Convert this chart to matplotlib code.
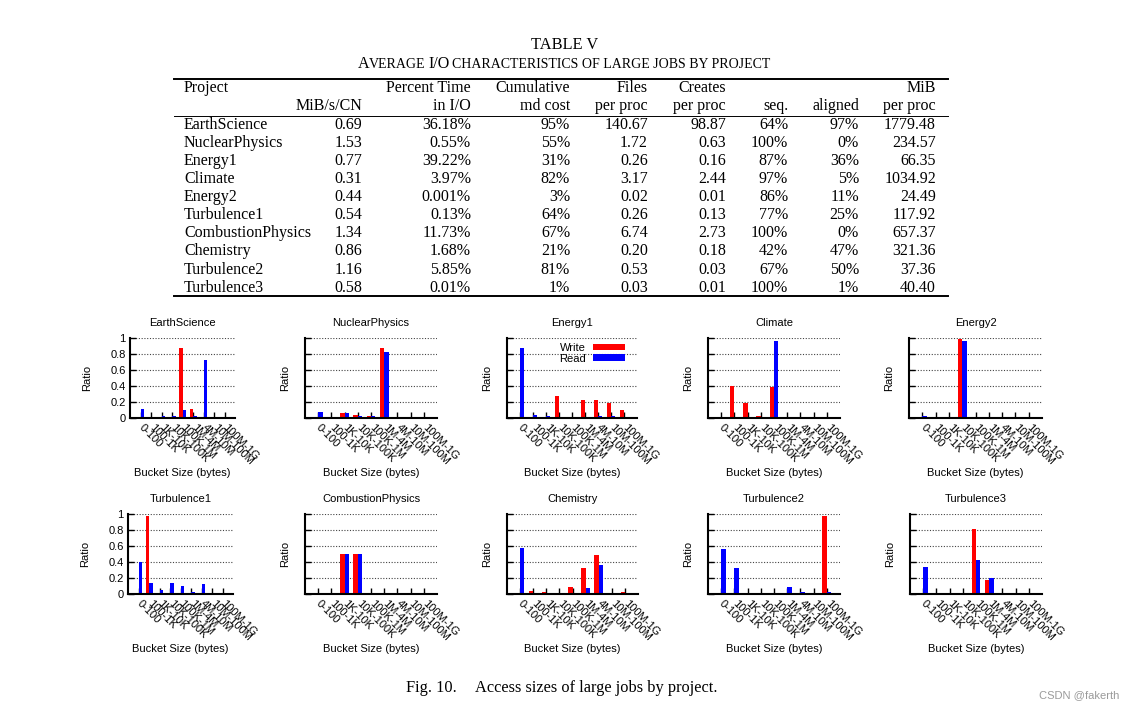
import numpy as np
import matplotlib
matplotlib.use("Agg")
import matplotlib.pyplot as plt
from matplotlib.lines import Line2D

W, H = 1131, 711
SERIF = ["Liberation Serif", "DejaVu Serif"]
SANS = ["Liberation Sans", "DejaVu Sans"]

# ---- table V ----
projects = ["EarthScience", "NuclearPhysics", "Energy1", "Climate", "Energy2",
            "Turbulence1", "CombustionPhysics", "Chemistry", "Turbulence2", "Turbulence3"]
mib_s_cn = ["0.69", "1.53", "0.77", "0.31", "0.44", "0.54", "1.34", "0.86", "1.16", "0.58"]
pct_time_io = ["36.18%", "0.55%", "39.22%", "3.97%", "0.001%", "0.13%", "11.73%", "1.68%", "5.85%", "0.01%"]
md_cost = ["95%", "55%", "31%", "82%", "3%", "64%", "67%", "21%", "81%", "1%"]
files_per_proc = ["140.67", "1.72", "0.26", "3.17", "0.02", "0.26", "6.74", "0.20", "0.53", "0.03"]
creates_per_proc = ["98.87", "0.63", "0.16", "2.44", "0.01", "0.13", "2.73", "0.18", "0.03", "0.01"]
seq_pct = ["64%", "100%", "87%", "97%", "86%", "77%", "100%", "42%", "67%", "100%"]
aligned_pct = ["97%", "0%", "36%", "5%", "11%", "25%", "0%", "47%", "50%", "1%"]
mib_per_proc = ["1779.48", "234.57", "66.35", "1034.92", "24.49", "117.92", "657.37", "321.36", "37.36", "40.40"]

# ---- Fig. 10: access size ratio per bucket ----
buckets = ["0-100", "100-1K", "1K-10K", "10K-100K", "100K-1M", "1M-4M", "4M-10M", "10M-100M", "100M-1G"]
earthscience_write = [0, 0, 0, 0, 0.88, 0.11, 0.005, 0, 0]
earthscience_read = [0.11, 0.005, 0.03, 0.02, 0.10, 0.03, 0.73, 0.005, 0.005]
nuclear_write = [0, 0, 0.06, 0.04, 0.02, 0.88, 0, 0, 0]
nuclear_read = [0.07, 0, 0.06, 0.03, 0.03, 0.82, 0.01, 0.005, 0.005]
energy1_write = [0, 0, 0, 0.28, 0, 0.23, 0.23, 0.19, 0.10]
energy1_read = [0.87, 0.04, 0.03, 0, 0.005, 0.01, 0.02, 0.02, 0.005]
climate_write = [0, 0.40, 0.19, 0.03, 0.39, 0.01, 0.01, 0, 0]
climate_read = [0.005, 0.01, 0, 0.01, 0.96, 0.01, 0.01, 0.005, 0.005]
energy2_write = [0, 0, 0, 0.99, 0, 0, 0, 0, 0]
energy2_read = [0.03, 0, 0, 0.96, 0, 0, 0, 0, 0.005]
turb1_write = [0, 0.98, 0, 0, 0.015, 0, 0, 0, 0]
turb1_read = [0.40, 0.14, 0.05, 0.14, 0.10, 0.03, 0.13, 0, 0]
combustion_write = [0, 0, 0.50, 0.50, 0, 0, 0, 0, 0]
combustion_read = [0, 0, 0.50, 0.50, 0, 0, 0, 0, 0]
chemistry_write = [0, 0.04, 0.02, 0, 0.09, 0.33, 0.49, 0, 0.03]
chemistry_read = [0.57, 0, 0, 0, 0, 0.07, 0.36, 0, 0.01]
turb2_write = [0, 0, 0, 0, 0, 0, 0, 0, 0.98]
turb2_read = [0.56, 0.33, 0, 0, 0, 0.09, 0.02, 0, 0.02]
turb3_write = [0, 0, 0, 0, 0.81, 0.17, 0, 0, 0]
turb3_read = [0.34, 0, 0, 0.01, 0.43, 0.20, 0, 0, 0]

panels = [
    ("EarthScience", earthscience_write, earthscience_read),
    ("NuclearPhysics", nuclear_write, nuclear_read),
    ("Energy1", energy1_write, energy1_read),
    ("Climate", climate_write, climate_read),
    ("Energy2", energy2_write, energy2_read),
    ("Turbulence1", turb1_write, turb1_read),
    ("CombustionPhysics", combustion_write, combustion_read),
    ("Chemistry", chemistry_write, chemistry_read),
    ("Turbulence2", turb2_write, turb2_read),
    ("Turbulence3", turb3_write, turb3_read),
]


def fx(x):
    return x / W


def fy(y):
    return 1 - y / H


fig = plt.figure(figsize=(W / 100, H / 100), dpi=100)
renderer = fig.canvas.get_renderer()

# ---- table title (small caps subtitle built from pieces) ----
fig.text(fx(565), fy(45), "TABLE V", ha="center", va="center", family=SERIF, fontsize=11.8)
big, small = 11.6, 10.0
pieces = [("A", big, 0), ("VERAGE", small, 2.8), ("I/O", big, 2.8),
          ("CHARACTERISTICS OF LARGE JOBS BY PROJECT", small, 0)]
made, total = [], 0
for s, size, gap in pieces:
    t = fig.text(0, fy(67.5), s, ha="left", va="baseline", family=SERIF, fontsize=size)
    w = t.get_window_extent(renderer).width
    made.append((t, w, gap))
    total += w + gap
x = 564 - total / 2
for t, w, gap in made:
    t.set_x(fx(x))
    x += w + gap

# rules
for y, lw in [(79, 1.4), (116, 0.7), (296, 1.4)]:
    fig.add_artist(Line2D([fx(174), fx(948)], [fy(y), fy(y)], color="black", lw=lw))

tkw = dict(family=SERIF, fontsize=11.5, va="center")
fig.text(fx(184), fy(88), "Project", ha="left", **tkw)
head1 = [(471, "Percent Time"), (570, "Cumulative"), (648, "Files"), (726, "Creates"), (936, "MiB")]
head2 = [(362, "MiB/s/CN"), (471, "in I/O"), (570, "md cost"), (648, "per proc"),
         (726, "per proc"), (788, "seq."), (859, "aligned"), (936, "per proc")]
for xr, s in head1:
    fig.text(fx(xr), fy(88), s, ha="right", **tkw)
for xr, s in head2:
    fig.text(fx(xr), fy(106.5), s, ha="right", **tkw)

cols = [(362, mib_s_cn), (471, pct_time_io), (570, md_cost), (648, files_per_proc),
        (726, creates_per_proc), (788, seq_pct), (859, aligned_pct), (936, mib_per_proc)]
for i, name in enumerate(projects):
    y = 125 + 18.07 * i
    fig.text(fx(184), fy(y), name, ha="left", **tkw)
    for xr, vals in cols:
        fig.text(fx(xr), fy(y), vals[i], ha="right", **tkw)

# ---- small multiples ----
lr = [(130, 235), (305, 437), (507, 637), (708, 840), (909, 1042),
      (128, 233), (305, 437), (507, 638), (708, 840), (910, 1042)]
rows = [(338, 418), (514, 594)]
bw = 1 / 3
xs = np.arange(len(buckets))

for i, (name, wr, rd) in enumerate(panels):
    r, c = divmod(i, 5)
    left, right = lr[i]
    top, bot = rows[r]
    ax = fig.add_axes([fx(left), fy(bot), (right - left) / W, (bot - top) / H])
    ax.bar(xs - bw / 2, wr, bw, color="#ff0000", label="Write")
    ax.bar(xs + bw / 2, rd, bw, color="#0000ff", label="Read")
    ax.set_xlim(-1, 9)
    ax.set_ylim(0, 1)
    ax.set_yticks([0, 0.2, 0.4, 0.6, 0.8, 1.0])
    if c == 0:
        ax.set_yticklabels(["0", "0.2", "0.4", "0.6", "0.8", "1"], family=SANS, fontsize=8)
    else:
        ax.set_yticklabels([])
    ax.set_xticks(xs)
    ax.set_xticklabels(buckets, rotation=-45, ha="left", va="center", rotation_mode="anchor",
                       family=SANS, fontsize=8)
    ax.tick_params(direction="in", length=4, width=1, pad=3)
    ax.tick_params(axis="x", pad=6)
    for sp in ["top", "right"]:
        ax.spines[sp].set_visible(False)
    for sp in ["left", "bottom"]:
        ax.spines[sp].set_linewidth(1.5)
    ax.grid(axis="y", linestyle=(0, (1, 1.5)), color="#444444", lw=0.8)
    ax.set_axisbelow(True)
    ax.set_title(name, family=SANS, fontsize=8, pad=9)
    ax.set_ylabel("Ratio", family=SANS, fontsize=8, va="center")
    ax.set_xlabel("Bucket Size (bytes)", family=SANS, fontsize=8, va="center")
    yl_off = 43 if c == 0 else 20
    ax.yaxis.set_label_coords(-yl_off / (right - left), 0.5)
    ax.xaxis.set_label_coords(0.5, -55 / (bot - top))
    if name == "Energy1":
        ax.legend(loc="upper right", bbox_to_anchor=(1 - 12 / (right - left), 1 - 5 / (bot - top)),
                  frameon=False, markerfirst=False, prop={"family": SANS, "size": 8},
                  handlelength=2.9, handleheight=0.55, handletextpad=0.6,
                  labelspacing=0.05, borderaxespad=0, borderpad=0)

# caption + watermark
fig.text(fx(406), fy(688), "Fig. 10.", ha="left", va="center", family=SERIF, fontsize=11.8)
fig.text(fx(475), fy(688), "Access sizes of large jobs by project.", ha="left", va="center",
         family=SERIF, fontsize=11.8)
fig.text(fx(1119), fy(695), "CSDN @fakerth", ha="right", va="center", family=SANS,
         fontsize=8, color="#9a9a9a")

fig.savefig("out.png", dpi=100)
